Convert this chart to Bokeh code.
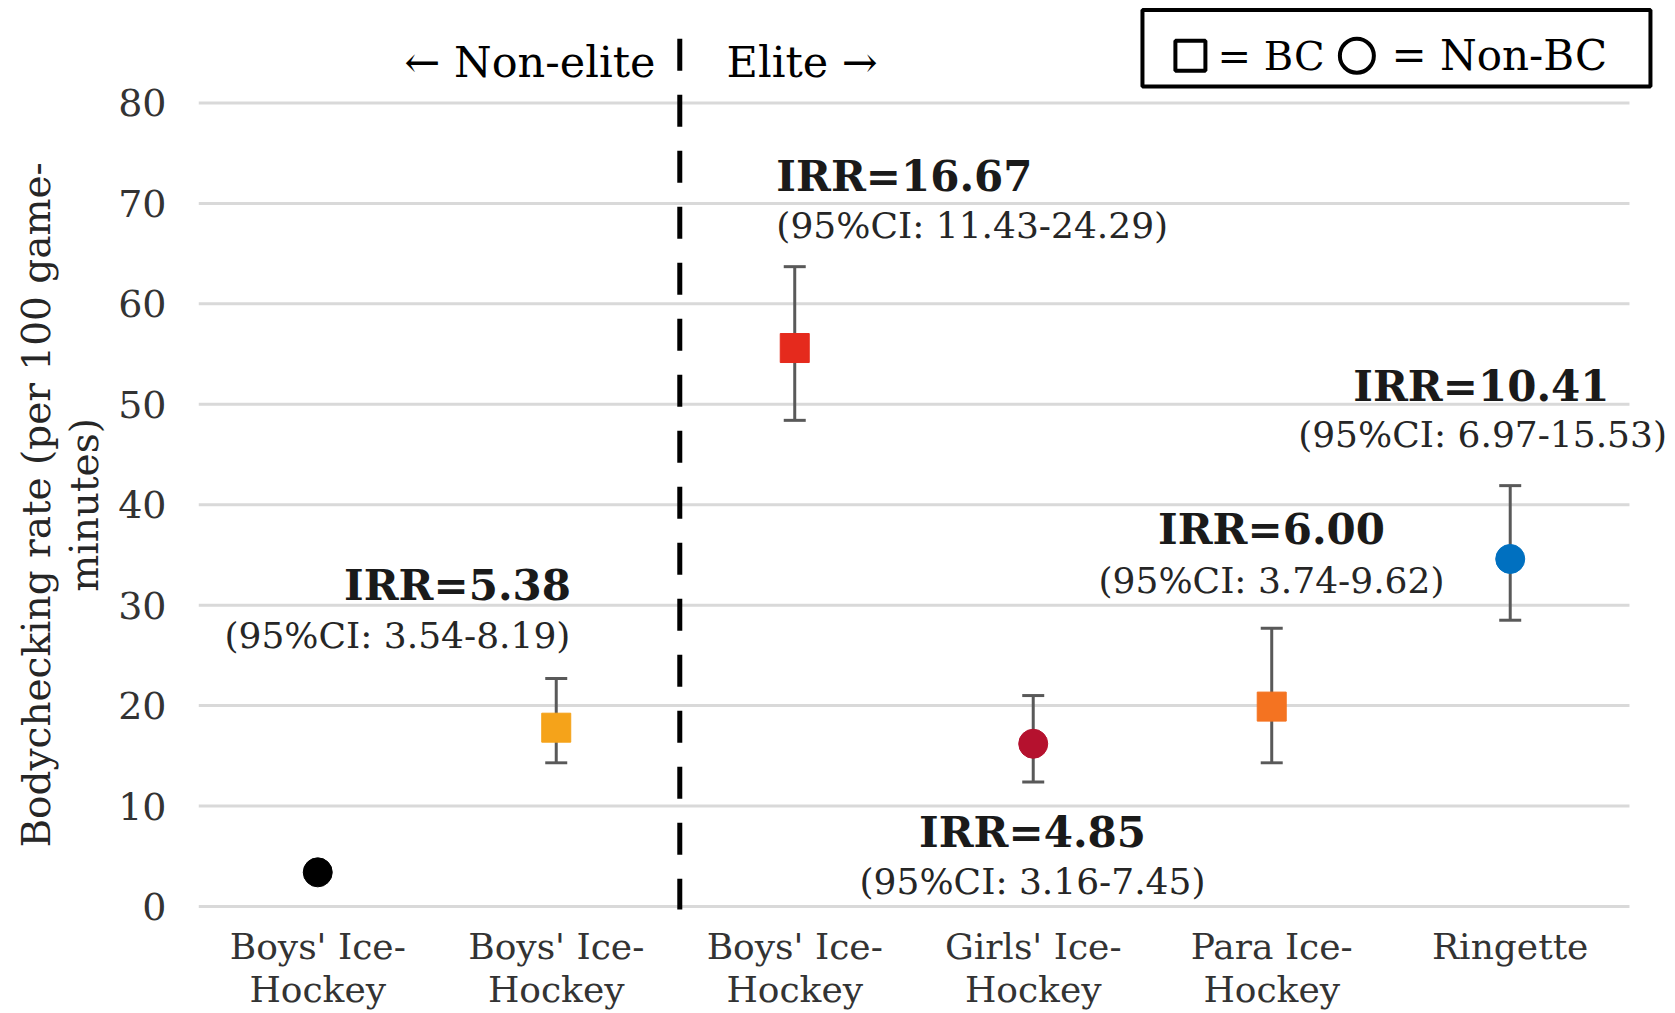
import math
from bokeh.plotting import figure
from bokeh.layouts import row
from bokeh.models import Range1d, FixedTicker, Label, ColumnDataSource
from bokeh.core.properties import value
from bokeh.embed import file_html
from bokeh.resources import INLINE

nan = float("nan")

# ---- data ----
categories = ["Boys' Ice-\nHockey", "Boys' Ice-\nHockey", "Boys' Ice-\nHockey",
              "Girls' Ice-\nHockey", "Para Ice-\nHockey", "Ringette"]
level = ["Non-elite", "Non-elite", "Elite", "Elite", "Elite", "Elite"]
checking = ["Non-BC", "BC", "BC", "Non-BC", "BC", "Non-BC"]
rates = [3.4, 17.8, 55.6, 16.2, 19.9, 34.6]
ci_lower = [nan, 14.3, 48.4, 12.4, 14.3, 28.5]
ci_upper = [nan, 22.7, 63.7, 21.0, 27.7, 41.9]
colors = ["#000000", "#F5A31A", "#E52A1D", "#B5112E", "#F47321", "#0070C0"]
irr_labels = ["IRR=5.38", "IRR=16.67", "IRR=4.85", "IRR=6.00", "IRR=10.41"]
ci_labels = ["(95%CI: 3.54-8.19)", "(95%CI: 11.43-24.29)", "(95%CI: 3.16-7.45)",
             "(95%CI: 3.74-9.62)", "(95%CI: 6.97-15.53)"]
y_ticks = [0, 10, 20, 30, 40, 50, 60, 70, 80]
y_title = "Bodychecking rate (per 100 game-\nminutes)"

# ---- layout constants ----
FONT = "DejaVu Serif"
H = 1012
LW = 110            # width of the strip that carries the y-axis title
W = 1675 - LW
n = len(categories)
xs = [i + 0.5 for i in range(n)]
markers = ["square" if c == "BC" else "circle" for c in checking]
n_nonelite = level.count("Non-elite")

src = ColumnDataSource(dict(x=xs, rate=rates, lo=ci_lower, hi=ci_upper,
                            color=colors, marker=markers))

p = figure(width=W, height=H, x_range=Range1d(0, 6.193), y_range=Range1d(-0.4, 90.2),
           output_backend="svg", toolbar_location=None,
           min_border_left=88, min_border_right=0, min_border_top=0, min_border_bottom=98)
p.outline_line_color = None
p.xgrid.visible = False
p.ygrid.visible = False

for ax in (p.xaxis, p.yaxis):
    ax.axis_line_color = None
    ax.major_tick_line_color = None
    ax.minor_tick_line_color = None
    ax.major_tick_out = 0
    ax.major_label_text_font = FONT
    ax.major_label_text_color = "#333333"

p.xaxis.ticker = FixedTicker(ticks=xs)
p.xaxis.major_label_overrides = {x: c for x, c in zip(xs, categories)}
p.xaxis.major_label_text_font_size = "36px"
p.xaxis.major_label_text_line_height = 1.05
p.xaxis.major_label_standoff = 15

p.yaxis.ticker = FixedTicker(ticks=y_ticks)
p.yaxis.major_label_text_font_size = "38px"
p.yaxis.major_label_standoff = 32

# gridlines
grid = p.segment(x0=[0] * len(y_ticks), x1=[n] * len(y_ticks), y0=y_ticks, y1=y_ticks,
                 line_color="#D9D9D9", line_width=3)
grid.level = "underlay"

# divider between non-elite and elite
p.segment(x0=[n_nonelite + 0.018], x1=[n_nonelite + 0.018], y0=[86.4], y1=[-0.3],
          line_color="black", line_width=5, line_dash="32 24")

# error bars
p.segment(x0="x", x1="x", y0="lo", y1="hi", source=src, line_color="#595959", line_width=3)
p.scatter(x="x", y="hi", source=src, marker="dash", size=22, line_color="#595959", line_width=3)
p.scatter(x="x", y="lo", source=src, marker="dash", size=22, line_color="#595959", line_width=3)

# points
p.scatter(x="x", y="rate", source=src, marker="marker", size=29,
          fill_color="color", line_color="color")

# IRR annotations
irr_x = [1.086, 2.423, 3.497, 4.499, 5.379]
irr_y = [32.0, 72.7, 7.4, 37.5, 51.8]
ci_x = [0.834, 2.423, 3.497, 4.499, 5.384]
ci_y = [27.0, 67.8, 2.5, 32.5, 47.0]
align = ["center", "left", "center", "center", "center"]
p.text(x=irr_x, y=irr_y, text=irr_labels, text_align=align, text_baseline="middle",
       text_font=value(FONT), text_font_style="bold", text_font_size=value("42px"),
       text_color="#1a1a1a")
p.text(x=ci_x, y=ci_y, text=ci_labels, text_align=align, text_baseline="middle",
       text_font=value(FONT), text_font_size=value("36px"), text_color="#262626")

# group labels
p.text(x=[1.916], y=[84.1], text=["\u2190 Non-elite"], text_align="right", text_baseline="middle",
       text_font=value(FONT), text_font_size=value("43px"), text_color="black")
p.text(x=[2.214], y=[84.1], text=["Elite \u2192"], text_align="left", text_baseline="middle",
       text_font=value(FONT), text_font_size=value("43px"), text_color="black")

# legend box
p.quad(left=[3.958], right=[6.088], bottom=[81.63], top=[89.25], fill_color="white",
       line_color="black", line_width=4)
p.scatter(x=[4.159], y=[84.7], marker="square", size=30, fill_color=None,
          line_color="black", line_width=4)
p.scatter(x=[4.857], y=[84.7], marker="circle", size=34, fill_color=None,
          line_color="black", line_width=4)
p.text(x=[4.273], y=[84.7], text=["= BC"], text_align="left",
       text_baseline="middle", text_font=value(FONT), text_font_size=value("40px"),
       text_color="black")
p.text(x=[5.002], y=[84.7], text=["= Non-BC"], text_align="left",
       text_baseline="middle", text_font=value(FONT), text_font_size=value("42px"),
       text_color="black")

# y-axis title strip
t = figure(width=LW, height=H, x_range=Range1d(0, LW), y_range=Range1d(0, H),
           output_backend="svg", toolbar_location=None,
           min_border_left=0, min_border_right=0, min_border_top=0, min_border_bottom=0)
t.axis.visible = False
t.grid.visible = False
t.outline_line_color = None
t.add_layout(Label(x=60, y=451, text=y_title, angle=math.pi / 2,
                   text_align="center", text_baseline="middle",
                   text_font=FONT, text_font_size="39px", text_color="#262626",
                   text_line_height=1.07))

layout = row(t, p)
open("out.html", "w").write(file_html(layout, INLINE))
